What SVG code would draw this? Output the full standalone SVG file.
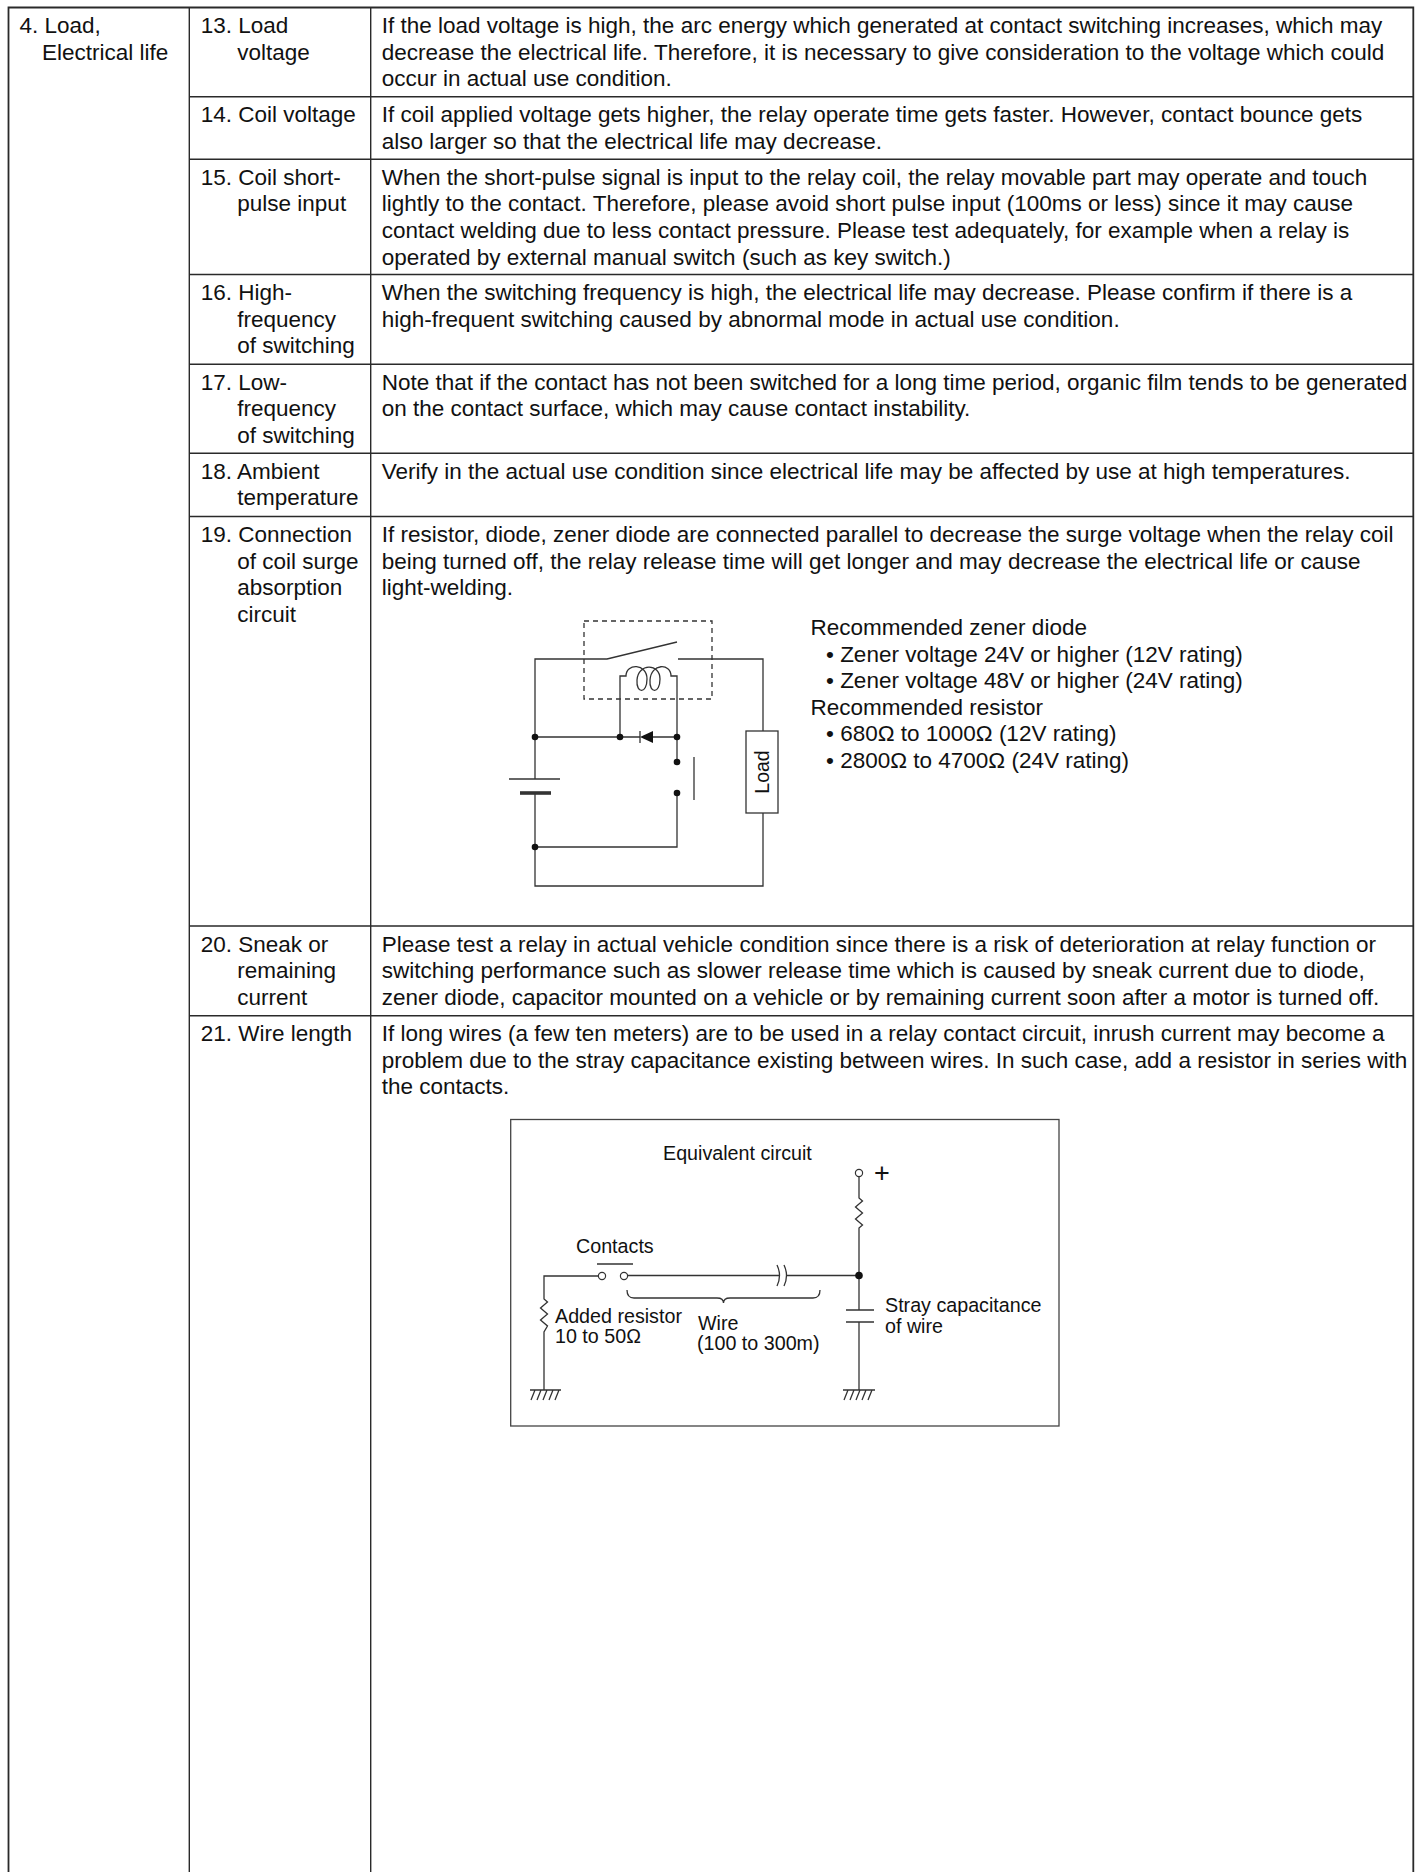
<svg xmlns="http://www.w3.org/2000/svg" width="1418" height="1872" viewBox="0 0 1418 1872">
<style>
text{font-family:"Liberation Sans",Arial,Helvetica,sans-serif;fill:#111}
.t{font-size:22.5px}
.c{font-size:19.7px}
.g{stroke:#2a2a2a;stroke-width:1.4;fill:none}
.w{stroke:#333;stroke-width:1.3;fill:none}
.dot{fill:#111;stroke:none}
.oc{fill:#fff;stroke:#333;stroke-width:1.2}
</style>
<rect width="1418" height="1872" fill="#fff"/>

<g id="grid" class="g">
<path d="M8.5,1872 V7.5 H1413.3 V1872" stroke-width="1.8"/>
<path d="M189.3,7.5 V1872 M370.7,7.5 V1872"/>
<path d="M189.3,96.7 H1413.3 M189.3,159.3 H1413.3 M189.3,274.5 H1413.3 M189.3,364.3 H1413.3 M189.3,453.3 H1413.3 M189.3,516.5 H1413.3 M189.3,926 H1413.3 M189.3,1015.7 H1413.3"/>
</g>

<g id="category" class="t">
<text x="19.5" y="33">4. Load,</text>
<text x="42" y="59.6">Electrical life</text>
</g>

<g id="row-13" class="t">
<text x="200.7" y="33">13. Load</text>
<text x="237.3" y="59.6">voltage</text>
<text x="381.7" y="33">If the load voltage is high, the arc energy which generated at contact switching increases, which may</text>
<text x="381.7" y="59.6">decrease the electrical life. Therefore, it is necessary to give consideration to the voltage which could</text>
<text x="381.7" y="86.2">occur in actual use condition.</text>
</g>

<g id="row-14" class="t">
<text x="200.7" y="122.2">14. Coil voltage</text>
<text x="381.7" y="122.2">If coil applied voltage gets higher, the relay operate time gets faster. However, contact bounce gets</text>
<text x="381.7" y="148.8">also larger so that the electrical life may decrease.</text>
</g>

<g id="row-15" class="t">
<text x="200.7" y="184.8">15. Coil short-</text>
<text x="237.3" y="211.4">pulse input</text>
<text x="381.7" y="184.8">When the short-pulse signal is input to the relay coil, the relay movable part may operate and touch</text>
<text x="381.7" y="211.4">lightly to the contact. Therefore, please avoid short pulse input (100ms or less) since it may cause</text>
<text x="381.7" y="238">contact welding due to less contact pressure. Please test adequately, for example when a relay is</text>
<text x="381.7" y="264.6">operated by external manual switch (such as key switch.)</text>
</g>

<g id="row-16" class="t">
<text x="200.7" y="300">16. High-</text>
<text x="237.3" y="326.6">frequency</text>
<text x="237.3" y="353.2">of switching</text>
<text x="381.7" y="300">When the switching frequency is high, the electrical life may decrease. Please confirm if there is a</text>
<text x="381.7" y="326.6">high-frequent switching caused by abnormal mode in actual use condition.</text>
</g>

<g id="row-17" class="t">
<text x="200.7" y="389.8">17. Low-</text>
<text x="237.3" y="416.4">frequency</text>
<text x="237.3" y="443">of switching</text>
<text x="381.7" y="389.8">Note that if the contact has not been switched for a long time period, organic film tends to be generated</text>
<text x="381.7" y="416.4">on the contact surface, which may cause contact instability.</text>
</g>

<g id="row-18" class="t">
<text x="200.7" y="478.8">18. Ambient</text>
<text x="237.3" y="505.4">temperature</text>
<text x="381.7" y="478.8">Verify in the actual use condition since electrical life may be affected by use at high temperatures.</text>
</g>

<g id="row-19" class="t">
<text x="200.7" y="542">19. Connection</text>
<text x="237.3" y="568.6">of coil surge</text>
<text x="237.3" y="595.2">absorption</text>
<text x="237.3" y="621.8">circuit</text>
<text x="381.7" y="542">If resistor, diode, zener diode are connected parallel to decrease the surge voltage when the relay coil</text>
<text x="381.7" y="568.6">being turned off, the relay release time will get longer and may decrease the electrical life or cause</text>
<text x="381.7" y="595.2">light-welding.</text>
</g>

<g id="relay-circuit">
<rect class="w" x="584" y="621" width="128" height="78" stroke-dasharray="5,4"/>
<g class="w">
<path d="M535,779 V659 H607 L677,642"/>
<path d="M678,659 H763 V731"/>
<path d="M763,813 V886 H535 V793"/>
<path d="M509,779 H560"/>
<path d="M520,793 H551" stroke-width="3.6"/>
<path d="M535,737 H640 M653,737 H677"/>
<path d="M620,737 V676 H626 C626,663 647,663 647,679 C647,694 636,694 637,680 C638,663 660,663 660,679 C660,694 649,694 650,680 C651,663 671,663 671,676 H677 V762"/>
<path d="M677,793 V847 H535"/>
<path d="M694,757 V800"/>
<path d="M640,731 V743"/>
<rect x="746" y="731" width="32" height="82"/>
</g>
<polygon class="dot" points="640,737 653,731 653,743"/>
<circle class="dot" cx="535" cy="737" r="3.3"/>
<circle class="dot" cx="620" cy="737" r="3.3"/>
<circle class="dot" cx="677" cy="737" r="3.3"/>
<circle class="dot" cx="677" cy="762" r="3.3"/>
<circle class="dot" cx="677" cy="793" r="3.3"/>
<circle class="dot" cx="535" cy="847" r="3.3"/>
<text transform="translate(768.5,772) rotate(-90)" text-anchor="middle" font-size="19.5">Load</text>
</g>

<g id="relay-notes" class="t">
<text x="810.5" y="635">Recommended zener diode</text>
<text x="826" y="661.7">• Zener voltage 24V or higher (12V rating)</text>
<text x="826" y="688.2">• Zener voltage 48V or higher (24V rating)</text>
<text x="810.5" y="714.6">Recommended resistor</text>
<text x="826" y="741.2">• 680Ω to 1000Ω (12V rating)</text>
<text x="826" y="767.7">• 2800Ω to 4700Ω (24V rating)</text>
</g>

<g id="row-20" class="t">
<text x="200.7" y="951.5">20. Sneak or</text>
<text x="237.3" y="978.1">remaining</text>
<text x="237.3" y="1004.7">current</text>
<text x="381.7" y="951.5">Please test a relay in actual vehicle condition since there is a risk of deterioration at relay function or</text>
<text x="381.7" y="978.1">switching performance such as slower release time which is caused by sneak current due to diode,</text>
<text x="381.7" y="1004.7">zener diode, capacitor mounted on a vehicle or by remaining current soon after a motor is turned off.</text>
</g>

<g id="row-21" class="t">
<text x="200.7" y="1041.2">21. Wire length</text>
<text x="381.7" y="1041.2">If long wires (a few ten meters) are to be used in a relay contact circuit, inrush current may become a</text>
<text x="381.7" y="1067.8">problem due to the stray capacitance existing between wires. In such case, add a resistor in series with</text>
<text x="381.7" y="1094.4">the contacts.</text>
</g>

<g id="equivalent-circuit">
<rect x="510.7" y="1119.5" width="548.3" height="306.5" fill="none" stroke="#444" stroke-width="1.3"/>
<g class="w">
<path d="M598.5,1276 H544 V1299 L547.5,1302 L540.5,1308 L547.5,1314 L540.5,1320 L547.5,1326 L544,1332 V1390"/>
<path d="M597,1264 H633"/>
<path d="M627.5,1275.5 H779"/>
<path d="M786,1275.5 H859"/>
<path d="M777,1265 Q782,1275.5 777,1286 M784,1265 Q789,1275.5 784,1286"/>
<path d="M859,1176.5 V1198 L862.5,1201 L855.5,1207 L862.5,1213 L855.5,1219 L862.5,1225 L859,1228 V1310"/>
<path d="M846,1310 H874 M846,1322 H874"/>
<path d="M859,1322 V1390"/>
<path d="M627,1290 Q627,1298 634,1298 L717,1298 Q723.5,1298 723.5,1303 Q723.5,1298 730,1298 L813,1298 Q820,1298 820,1290"/>
<path d="M530,1390 H561 M535,1390 L531,1400 M541,1390 L537,1400 M547,1390 L543,1400 M553,1390 L549,1400 M559,1390 L555,1400"/>
<path d="M843,1390 H875 M848,1390 L844,1400 M854,1390 L850,1400 M860,1390 L856,1400 M866,1390 L862,1400 M872,1390 L868,1400"/>
</g>
<circle class="oc" cx="602" cy="1276" r="3.6"/>
<circle class="oc" cx="624" cy="1276" r="3.6"/>
<circle class="oc" cx="859" cy="1173" r="3.6"/>
<circle class="dot" cx="859" cy="1275.5" r="3.8"/>
<g class="c">
<text x="663" y="1160">Equivalent circuit</text>
<text x="874" y="1182" font-size="27">+</text>
<text x="576" y="1253">Contacts</text>
<text x="555" y="1323">Added resistor</text>
<text x="555" y="1343">10 to 50Ω</text>
<text x="698" y="1330">Wire</text>
<text x="697" y="1350">(100 to 300m)</text>
<text x="885" y="1312">Stray capacitance</text>
<text x="885" y="1333">of wire</text>
</g>
</g>
</svg>
